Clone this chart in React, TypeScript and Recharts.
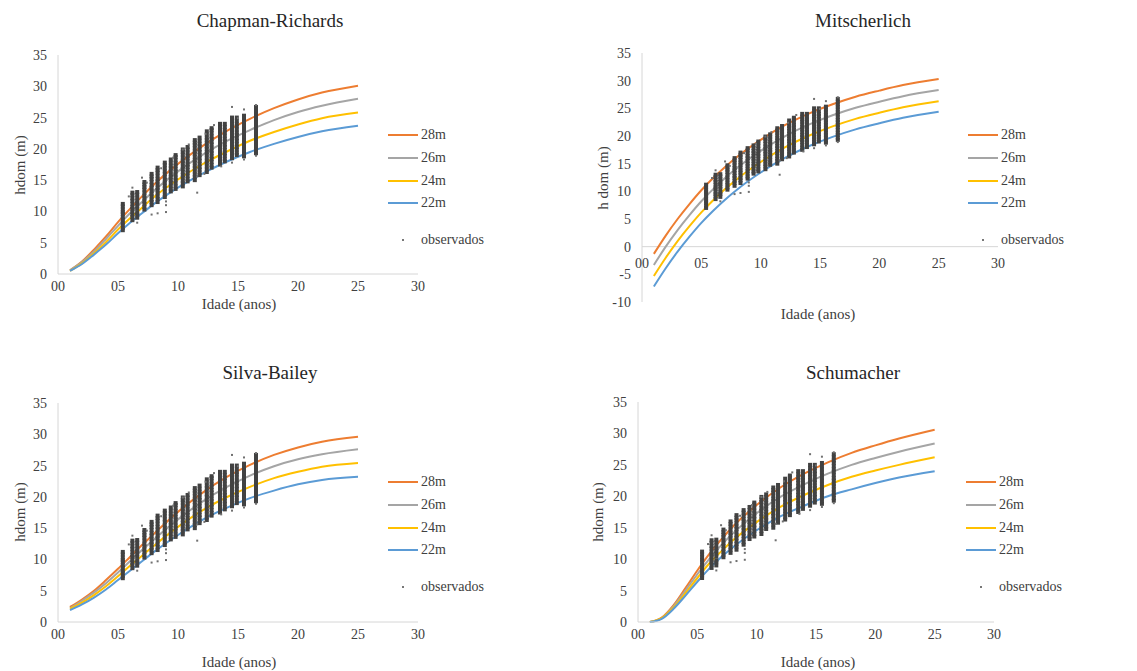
import React from "react";
import { ComposedChart, Line, Scatter, XAxis, YAxis, ReferenceLine } from "recharts";

const curveAges = [1, 2, 3, 4, 5, 6, 7, 8, 10, 12, 14, 16, 18, 20, 22, 25];

const siteLabels = ["28m", "26m", "24m", "22m"];
const siteColors = ["#ED7D31", "#A5A5A5", "#FFC000", "#5B9BD5"];

// Chapman-Richards
const chapman28 = [0.6, 2.0, 3.9, 6.0, 8.3, 10.4, 12.4, 14.3, 17.6, 20.4, 22.8, 24.8, 26.5, 27.9, 29.0, 30.1];
const chapman26 = [0.6, 1.9, 3.6, 5.6, 7.7, 9.7, 11.5, 13.3, 16.4, 19.0, 21.2, 23.0, 24.6, 25.9, 26.9, 28.0];
const chapman24 = [0.5, 1.7, 3.3, 5.1, 7.1, 8.9, 10.6, 12.3, 15.1, 17.5, 19.5, 21.3, 22.7, 23.9, 24.9, 25.8];
const chapman22 = [0.5, 1.6, 3.1, 4.7, 6.5, 8.2, 9.7, 11.2, 13.8, 16.0, 17.9, 19.5, 20.8, 21.9, 22.8, 23.7];

// Mitscherlich
const mitscher28 = [-1.3, 2.0, 5.0, 7.7, 10.2, 12.4, 14.4, 16.2, 19.3, 21.9, 24.0, 25.7, 27.1, 28.2, 29.2, 30.3];
const mitscher26 = [-3.3, 0.0, 3.0, 5.7, 8.2, 10.4, 12.4, 14.2, 17.3, 19.9, 22.0, 23.7, 25.1, 26.2, 27.2, 28.3];
const mitscher24 = [-5.3, -2.0, 1.0, 3.7, 6.2, 8.4, 10.4, 12.2, 15.3, 17.9, 20.0, 21.7, 23.1, 24.2, 25.2, 26.3];
const mitscher22 = [-7.2, -3.9, -0.9, 1.8, 4.3, 6.5, 8.5, 10.3, 13.4, 16.0, 18.1, 19.8, 21.2, 22.3, 23.3, 24.4];

// Silva-Bailey
const silva28 = [2.4, 3.6, 5.0, 6.7, 8.5, 10.4, 12.3, 14.1, 17.6, 20.6, 23.1, 25.1, 26.7, 27.9, 28.8, 29.6];
const silva26 = [2.2, 3.4, 4.7, 6.2, 7.9, 9.7, 11.5, 13.2, 16.4, 19.2, 21.5, 23.4, 24.9, 26.0, 26.8, 27.6];
const silva24 = [2.1, 3.1, 4.3, 5.7, 7.3, 9.0, 10.6, 12.2, 15.2, 17.8, 19.9, 21.6, 23.0, 24.0, 24.8, 25.4];
const silva22 = [1.9, 2.8, 3.9, 5.2, 6.7, 8.2, 9.7, 11.2, 13.9, 16.3, 18.2, 19.8, 21.0, 22.0, 22.7, 23.2];

// Schumacher
const schum28 = [0.0, 0.7, 2.7, 5.4, 8.2, 10.8, 13.1, 15.2, 18.6, 21.4, 23.6, 25.4, 26.9, 28.1, 29.2, 30.6];
const schum26 = [0.0, 0.6, 2.5, 5.0, 7.6, 10.0, 12.2, 14.1, 17.3, 19.9, 21.9, 23.6, 25.0, 26.1, 27.1, 28.4];
const schum24 = [0.0, 0.6, 2.3, 4.6, 7.0, 9.3, 11.2, 13.0, 15.9, 18.3, 20.2, 21.8, 23.1, 24.1, 25.0, 26.2];
const schum22 = [0.0, 0.5, 2.1, 4.2, 6.4, 8.5, 10.3, 11.9, 14.6, 16.8, 18.5, 20.0, 21.1, 22.1, 23.0, 24.0];

// observed plots: one column of heights per measurement age
const obsAges = [5.4, 6.2, 6.6, 7.2, 7.8, 8.3, 8.9, 9.4, 9.8, 10.4, 10.8, 11.4, 11.8, 12.4, 12.8, 13.5, 13.9, 14.5, 14.9, 15.5, 16.5];
const obsHeights = [
  [7.0, 7.4, 7.9, 8.2, 8.7, 9.1, 9.6, 9.9, 10.3, 10.8, 11.2],
  [8.6, 9.1, 9.5, 9.9, 10.4, 10.7, 11.2, 11.7, 12.1, 12.6, 13.0],
  [9.0, 9.5, 9.8, 10.4, 10.9, 11.3, 11.7, 12.2, 12.7, 13.1],
  [10.3, 10.7, 11.2, 11.6, 12.1, 12.5, 13.0, 13.5, 13.9, 14.3, 14.7],
  [11.0, 11.5, 11.9, 12.4, 12.8, 13.3, 13.8, 14.2, 14.7, 15.2, 15.6, 16.0],
  [11.5, 12.0, 12.4, 12.9, 13.4, 13.8, 14.3, 14.8, 15.2, 15.7, 16.2, 16.6, 17.0],
  [12.3, 12.7, 13.2, 13.7, 14.1, 14.6, 15.0, 15.5, 16.0, 16.4, 16.9, 17.4, 17.8],
  [13.2, 13.6, 14.1, 14.6, 15.0, 15.5, 15.9, 16.4, 16.9, 17.3, 17.8, 18.3],
  [13.6, 14.0, 14.5, 15.0, 15.4, 15.9, 16.4, 16.8, 17.3, 17.7, 18.2, 18.7, 19.0],
  [14.0, 14.5, 14.9, 15.4, 15.8, 16.3, 16.8, 17.2, 17.7, 18.1, 18.6, 19.1, 19.5, 19.9],
  [14.8, 15.2, 15.7, 16.2, 16.6, 17.1, 17.5, 18.0, 18.5, 18.9, 19.4, 19.9, 20.3],
  [15.0, 15.5, 15.9, 16.4, 16.9, 17.3, 17.8, 18.2, 18.7, 19.2, 19.6, 20.1, 20.6, 21.0, 21.4],
  [15.8, 16.2, 16.7, 17.1, 17.6, 18.1, 18.5, 19.0, 19.5, 19.9, 20.4, 20.8, 21.3, 21.8],
  [16.3, 16.7, 17.2, 17.7, 18.1, 18.6, 19.1, 19.5, 20.0, 20.4, 20.9, 21.4, 21.8, 22.3, 22.8],
  [17.0, 17.4, 17.9, 18.4, 18.8, 19.3, 19.7, 20.2, 20.7, 21.1, 21.6, 22.0, 22.5, 23.0, 23.3],
  [17.5, 17.9, 18.4, 18.9, 19.3, 19.8, 20.2, 20.7, 21.2, 21.6, 22.1, 22.6, 23.0, 23.5, 24.0],
  [18.0, 18.4, 18.9, 19.3, 19.8, 20.3, 20.7, 21.2, 21.6, 22.1, 22.6, 23.0, 23.5, 24.0],
  [18.5, 18.9, 19.4, 19.8, 20.3, 20.8, 21.2, 21.7, 22.1, 22.6, 23.1, 23.5, 24.0, 24.5, 25.0],
  [19.0, 19.4, 19.9, 20.3, 20.8, 21.3, 21.7, 22.2, 22.6, 23.1, 23.6, 24.0, 24.5, 25.0],
  [18.8, 19.2, 19.7, 20.2, 20.6, 21.1, 21.5, 22.0, 22.5, 22.9, 23.4, 23.8, 24.3, 24.8, 25.3],
  [19.3, 19.7, 20.2, 20.6, 21.1, 21.6, 22.0, 22.5, 22.9, 23.4, 23.9, 24.3, 24.8, 25.3, 25.7, 26.2, 26.7],
];
// scattered single plots away from the columns [age, height]
const obsStray = [
  [5.9, 12.4], [6.2, 13.8], [6.6, 8.2], [7.0, 15.4], [7.4, 14.6], [7.8, 9.5], [8.3, 9.7],
  [8.6, 16.9], [9.0, 11.6], [9.0, 11.0], [9.0, 9.9], [9.6, 18.6], [10.4, 19.9], [10.9, 20.7],
  [11.6, 13.0], [11.6, 15.6], [12.2, 16.0], [12.3, 22.4], [13.0, 23.8], [13.6, 17.2],
  [14.5, 26.7], [14.5, 17.8], [15.0, 24.9], [15.5, 26.3], [15.5, 18.3], [16.5, 27.0], [16.5, 18.9],
];

const xTicks = [0, 5, 10, 15, 20, 25, 30];
const yTicks = [0, 5, 10, 15, 20, 25, 30, 35];
const yTicksMitscher = [-10, -5, 0, 5, 10, 15, 20, 25, 30, 35];

const FONT = '"Liberation Serif", "Times New Roman", serif';
const TXT = "#404040";
const AXIS = "#d6d6d6";

const obsPoints = obsAges.flatMap((a, i) => obsHeights[i].map((h) => ({ age: a, h })));
const strayPoints = obsStray.map(([a, h]) => ({ age: a, h }));

function buildRows(c28: number[], c26: number[], c24: number[], c22: number[]) {
  return curveAges.map((a, i) => ({ age: a, s28: c28[i], s26: c26[i], s24: c24[i], s22: c22[i] }));
}

const fmtAge = (v: number) => String(v).padStart(2, "0");

const ObsMark = (p: any) => <rect x={p.cx - 2} y={p.cy - 2} width={4} height={4} fill="#424242" />;
const StrayMark = (p: any) => <rect x={p.cx - 1} y={p.cy - 1} width={2} height={2} fill="#707070" />;

const YW = 40;
const XH = 20;

type PanelProps = {
  title: string;
  yLabel: string;
  rows: any[];
  chartLeft: number;
  chartTop: number;
  W: number;
  H: number;
  plotLeft: number;
  plotRight: number;
  plotTop: number;
  plotBottom: number;
  yDomain: [number, number];
  yTicksList: number[];
  titlePos: [number, number];
  xTitlePos: [number, number];
  yTitlePos: [number, number];
  legendPos: [number, number];
};

function Panel(props: PanelProps) {
  const { rows, chartLeft, chartTop, W, H, plotLeft, plotRight, plotTop, plotBottom, yDomain } = props;
  const margin = {
    top: plotTop - chartTop,
    left: plotLeft - chartLeft - YW,
    right: chartLeft + W - plotRight,
    bottom: chartTop + H - plotBottom - XH,
  };
  const crossesZero = yDomain[0] < 0;
  // pixel distance from the bottom of the plot up to y = 0
  const zeroShift = crossesZero ? ((0 - yDomain[0]) / (yDomain[1] - yDomain[0])) * (plotBottom - plotTop) : 0;

  const XTick = ({ x, y, payload }: any) => (
    <text x={x} y={y - zeroShift + (crossesZero ? 3 : -1)} dy="0.71em" textAnchor="middle" fill={TXT} fontSize={14} fontFamily={FONT}>
      {fmtAge(payload.value)}
    </text>
  );

  const center: React.CSSProperties = { position: "absolute", transform: "translate(-50%, -50%)", whiteSpace: "nowrap", color: TXT, fontFamily: FONT };

  return (
    <>
      <div style={{ position: "absolute", left: chartLeft, top: chartTop, width: W, height: H }}>
        <ComposedChart width={W} height={H} data={rows} margin={margin}>
          <XAxis
            dataKey="age"
            type="number"
            domain={[0, 30]}
            ticks={xTicks}
            interval={0}
            height={XH}
            axisLine={crossesZero ? false : { stroke: AXIS }}
            tickLine={false}
            tick={<XTick />}
          />
          <YAxis
            type="number"
            domain={yDomain}
            ticks={props.yTicksList}
            interval={0}
            width={YW}
            axisLine={{ stroke: AXIS }}
            tickLine={false}
            tickMargin={5}
            tick={{ fill: TXT, fontSize: 14, fontFamily: FONT }}
          />
          {crossesZero && <ReferenceLine y={0} stroke={AXIS} />}
          <Scatter data={obsPoints} dataKey="h" shape={ObsMark} isAnimationActive={false} />
          <Scatter data={strayPoints} dataKey="h" shape={StrayMark} isAnimationActive={false} />
          {["s28", "s26", "s24", "s22"].map((k, i) => (
            <Line
              key={k}
              type="monotone"
              dataKey={k}
              stroke={siteColors[i]}
              strokeWidth={2}
              dot={false}
              isAnimationActive={false}
            />
          ))}
        </ComposedChart>
      </div>
      <div style={{ ...center, left: props.titlePos[0], top: props.titlePos[1], fontSize: 19, color: "#262626" }}>{props.title}</div>
      <div style={{ ...center, left: props.xTitlePos[0], top: props.xTitlePos[1], fontSize: 15 }}>Idade (anos)</div>
      <div style={{ ...center, left: props.yTitlePos[0], top: props.yTitlePos[1], fontSize: 15, transform: "translate(-50%, -50%) rotate(-90deg)" }}>
        {props.yLabel}
      </div>
      <div style={{ position: "absolute", left: props.legendPos[0], top: props.legendPos[1], fontFamily: FONT, fontSize: 14, color: TXT }}>
        {siteLabels.map((s, i) => (
          <div key={s} style={{ display: "flex", alignItems: "center", height: 22.7 }}>
            <div style={{ width: 30, height: 2, background: siteColors[i], marginRight: 3 }} />
            <span>{s}</span>
          </div>
        ))}
        <div style={{ display: "flex", alignItems: "center", height: 22, marginTop: 14 }}>
          <div style={{ width: 30, marginRight: 3, display: "flex", justifyContent: "center" }}>
            <div style={{ width: 2, height: 2, background: "#777" }} />
          </div>
          <span>observados</span>
        </div>
      </div>
    </>
  );
}

export default function App() {
  return (
    <div style={{ position: "absolute", left: 0, top: 0, width: 1137, height: 671, background: "#fff", overflow: "hidden" }}>
      <Panel
        title="Chapman-Richards"
        yLabel="hdom (m)"
        rows={buildRows(chapman28, chapman26, chapman24, chapman22)}
        chartLeft={0} chartTop={0} W={440} H={330}
        plotLeft={58} plotRight={418} plotTop={55} plotBottom={274}
        yDomain={[0, 35]} yTicksList={yTicks}
        titlePos={[270, 21]} xTitlePos={[239, 304]} yTitlePos={[20, 165]} legendPos={[388, 124]}
      />
      <Panel
        title="Mitscherlich"
        yLabel="h dom (m)"
        rows={buildRows(mitscher28, mitscher26, mitscher24, mitscher22)}
        chartLeft={560} chartTop={0} W={460} H={330}
        plotLeft={642} plotRight={998} plotTop={53} plotBottom={302}
        yDomain={[-10, 35]} yTicksList={yTicksMitscher}
        titlePos={[863, 21]} xTitlePos={[818, 314]} yTitlePos={[603, 178]} legendPos={[968, 124]}
      />
      <Panel
        title="Silva-Bailey"
        yLabel="hdom (m)"
        rows={buildRows(silva28, silva26, silva24, silva22)}
        chartLeft={0} chartTop={340} W={440} H={331}
        plotLeft={58} plotRight={418} plotTop={403} plotBottom={622}
        yDomain={[0, 35]} yTicksList={yTicks}
        titlePos={[270, 373]} xTitlePos={[239, 662]} yTitlePos={[20, 512]} legendPos={[388, 471]}
      />
      <Panel
        title="Schumacher"
        yLabel="hdom (m)"
        rows={buildRows(schum28, schum26, schum24, schum22)}
        chartLeft={560} chartTop={340} W={460} H={331}
        plotLeft={638} plotRight={994} plotTop={402} plotBottom={622}
        yDomain={[0, 35]} yTicksList={yTicks}
        titlePos={[853, 373]} xTitlePos={[818, 662]} yTitlePos={[598, 512]} legendPos={[966, 471]}
      />
    </div>
  );
}
